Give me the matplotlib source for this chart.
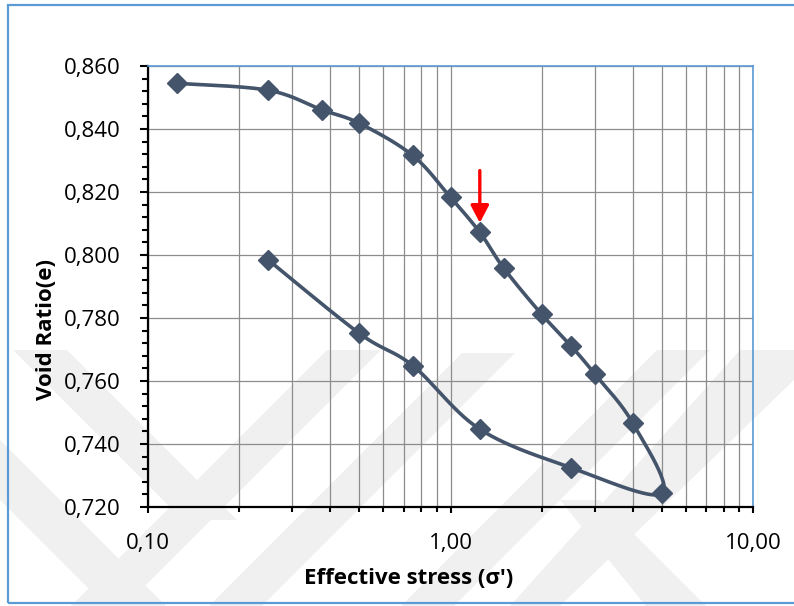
import numpy as np
import matplotlib.pyplot as plt
from matplotlib.patches import Polygon, Rectangle
from matplotlib.ticker import FuncFormatter, LogLocator, MultipleLocator, NullFormatter

# ---- data (loading then unloading) ----
stress = [0.125, 0.25, 0.375, 0.5, 0.75, 1.0, 1.25, 1.5, 2.0, 2.5, 3.0, 4.0, 5.0,
          2.5, 1.25, 0.75, 0.5, 0.25]
void_ratio = [0.8545, 0.8523, 0.8461, 0.8418, 0.8316, 0.8183, 0.8072, 0.7958, 0.7812,
              0.7712, 0.7622, 0.7467, 0.7243,
              0.7325, 0.7447, 0.7649, 0.7751, 0.7984]

# red arrow marking the point of interest
arrow_x = 1.25
arrow_from = 0.8268
arrow_to = 0.8102

W, H = 794, 606
LINE = '#44546A'


def smooth(xs, ys, ax_w=605.0, ax_h=441.0, n=30):
    # Excel style smoothing (Catmull-Rom) done in screen space
    u = np.log10(xs) / 2.0 * ax_w
    v = (np.array(ys) - 0.72) / 0.14 * ax_h
    p = np.column_stack([u, v])
    p = np.vstack([p[0], p, p[-1]])
    out = []
    t = np.linspace(0, 1, n)[:, None]
    for i in range(1, len(p) - 2):
        p0, p1, p2, p3 = p[i - 1], p[i], p[i + 1], p[i + 2]
        c1 = p1 + (p2 - p0) / 6.0
        c2 = p2 - (p3 - p1) / 6.0
        seg = ((1 - t) ** 3) * p1 + 3 * ((1 - t) ** 2) * t * c1 + 3 * (1 - t) * t ** 2 * c2 + t ** 3 * p2
        out.append(seg if i == 1 else seg[1:])
    out = np.vstack(out)
    return 10 ** (out[:, 0] / ax_w * 2.0), out[:, 1] / ax_h * 0.14 + 0.72


plt.rcParams['font.family'] = ['Open Sans', 'DejaVu Sans']

fig = plt.figure(figsize=(W / 100, H / 100), dpi=100)


def px(x, y):
    return (x / W, 1 - y / H)


# faint watermark bands in the background
bands = [
    [(13, 350), (67, 350), (237, 520), (183, 520)],
    [(327, 350), (381, 350), (125, 606), (71, 606)],
    [(462, 353), (515, 353), (262, 606), (209, 606)],
    [(657, 350), (710, 350), (454, 606), (401, 606)],
    [(740, 350), (794, 350), (794, 380), (560, 606), (510, 606)],
    [(0, 440), (0, 500), (106, 606), (166, 606)],
    [(560, 500), (600, 500), (706, 606), (646, 606)],
]
for b in bands:
    fig.add_artist(Polygon([px(*q) for q in b], closed=True, facecolor='#F0F0F0',
                           edgecolor='none', transform=fig.transFigure, zorder=0))

# chart frame
fig.add_artist(Rectangle(px(8, 603), (800 - 8) / W, (603 - 4.5) / H, transform=fig.transFigure,
                         facecolor='none', edgecolor='#5B9BD5', linewidth=1.6, zorder=1))

ax = fig.add_axes([148 / W, 1 - 507 / H, (753 - 148) / W, (507 - 66) / H])
ax.patch.set_alpha(0)

ax.set_xscale('log')
ax.set_xlim(0.1, 10)
ax.set_ylim(0.72, 0.86)

sx, sy = smooth(stress, void_ratio)
ax.plot(sx, sy, color=LINE, linewidth=2.6, zorder=3, solid_capstyle='round')
ax.plot(stress, void_ratio, linestyle='none', marker='D', markersize=10,
        markerfacecolor=LINE, markeredgecolor=LINE, zorder=4)

ax.annotate('', xy=(arrow_x, arrow_to), xytext=(arrow_x, arrow_from),
            arrowprops=dict(arrowstyle='-|>,head_width=0.55,head_length=1.05', color='red',
                            linewidth=2.4, shrinkA=0, shrinkB=0), zorder=5)

ax.xaxis.set_major_locator(LogLocator(base=10))
ax.xaxis.set_minor_locator(LogLocator(base=10, subs=np.arange(2, 10)))
ax.xaxis.set_minor_formatter(NullFormatter())
ax.xaxis.set_major_formatter(FuncFormatter(lambda v, p: f'{v:.2f}'.replace('.', ',')))
ax.yaxis.set_major_locator(MultipleLocator(0.02))
ax.yaxis.set_minor_locator(MultipleLocator(0.004))
ax.yaxis.set_major_formatter(FuncFormatter(lambda v, p: f'{v:.3f}'.replace('.', ',')))

ax.grid(which='major', axis='both', color='#8C8C8C', linewidth=0.9)
ax.grid(which='minor', axis='x', color='#8C8C8C', linewidth=0.9)
ax.set_axisbelow(True)

for s in ('top', 'right'):
    ax.spines[s].set_color('#5B9BD5')
    ax.spines[s].set_linewidth(1.2)
for s in ('left', 'bottom'):
    ax.spines[s].set_color('black')
    ax.spines[s].set_linewidth(1.6)

ax.tick_params(axis='both', which='both', direction='out', width=1.5, colors='black',
               labelsize=16)
ax.tick_params(axis='y', which='major', length=5.8, pad=14)
ax.tick_params(axis='y', which='minor', length=4.3)
ax.tick_params(axis='x', which='major', length=4.5, pad=14)
ax.tick_params(axis='x', which='minor', length=3.6)

ax.set_xlabel("Effective stress (σ')", fontsize=16, fontweight='bold')
ax.set_ylabel('Void Ratio(e)', fontsize=16, fontweight='bold')
ax.xaxis.set_label_coords((409 - 148) / 605, -(578 - 507) / 441)
ax.xaxis.label.set_verticalalignment('center')
ax.yaxis.set_label_coords((46 - 148) / 605, (507 - 329) / 441)
ax.yaxis.label.set_verticalalignment('center')

fig.savefig('out.png', dpi=100)
